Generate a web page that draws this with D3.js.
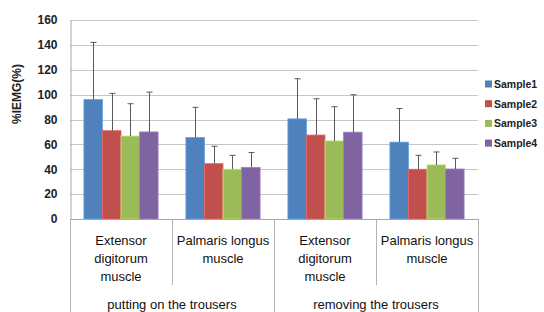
<!DOCTYPE html>
<html>
<head>
<meta charset="utf-8">
<script src="https://cdn.jsdelivr.net/npm/d3@7"></script>
<style>
  body { margin: 0; background: #fff; }
  text { font-family: "Liberation Sans", Arial, sans-serif; }
</style>
</head>
<body>
<svg id="chart" width="544" height="312"></svg>
<script>
// data
var muscles = ["Extensor digitorum muscle", "Palmaris longus muscle", "Extensor digitorum muscle", "Palmaris longus muscle"];
var muscleLines = [["Extensor", "digitorum", "muscle"], ["Palmaris longus", "muscle"], ["Extensor", "digitorum", "muscle"], ["Palmaris longus", "muscle"]];
var actions = ["putting on the trousers", "removing the trousers"];
var series = ["Sample1", "Sample2", "Sample3", "Sample4"];
var colors = ["#4f81bd", "#c0504d", "#9bbb59", "#8064a2"];
var sample1 = [96, 65.5, 80.5, 61.8];
var sample2 = [71, 44.5, 67.5, 40];
var sample3 = [66.7, 40, 62.8, 43.5];
var sample4 = [70, 41.5, 69.8, 40.2];
var err1 = [46, 24.3, 32.3, 27];
var err2 = [30, 14, 29.2, 11.2];
var err3 = [26, 11.2, 27.5, 10.4];
var err4 = [32, 12, 30.1, 8.6];
var yTicks = [0, 20, 40, 60, 80, 100, 120, 140, 160];

var values = [sample1, sample2, sample3, sample4];
var errors = [err1, err2, err3, err4];

var svg = d3.select("#chart");
var plotLeft = 70, plotRight = 478, plotTop = 20, plotBottom = 219;

var x = d3.scaleBand().domain(d3.range(muscles.length)).range([plotLeft, plotRight]).paddingInner(0).paddingOuter(0);
var xs = d3.scaleBand().domain(series).range([0, x.bandwidth()]).paddingInner(0).paddingOuter(0.75);
var y = d3.scaleLinear().domain([0, 160]).range([plotBottom, plotTop]);

// gridlines
svg.append("g").selectAll("line").data(yTicks.slice(1)).enter().append("line")
  .attr("x1", plotLeft).attr("x2", plotRight)
  .attr("y1", function(d) { return Math.round(y(d)) + 0.5; })
  .attr("y2", function(d) { return Math.round(y(d)) + 0.5; })
  .attr("stroke", "#c6c6c6").attr("stroke-width", 1);

// y axis (no outward ticks)
var yAxis = svg.append("g").attr("transform", "translate(" + (plotLeft + 0.5) + ",0)")
  .call(d3.axisLeft(y).tickValues(yTicks).tickSize(0).tickPadding(13));
yAxis.select(".domain").attr("stroke", "#a6a6a6");
yAxis.selectAll(".tick text").attr("font-size", 12).attr("font-weight", "bold").attr("fill", "#222")
  .attr("font-family", "'Liberation Sans', Arial, sans-serif");

svg.append("text")
  .attr("transform", "translate(21,94) rotate(-90)")
  .attr("text-anchor", "middle").attr("font-size", 12).attr("font-weight", "bold").attr("fill", "#222")
  .text("%IEMG(%)");

// bars
var groups = svg.append("g").selectAll("g").data(muscles).enter().append("g")
  .attr("transform", function(d, i) { return "translate(" + x(i) + ",0)"; });

groups.each(function(m, i) {
  var g = d3.select(this);
  series.forEach(function(s, k) {
    var v = values[k][i], e = errors[k][i];
    var bx = xs(s);
    g.append("rect")
      .attr("x", bx).attr("y", y(v))
      .attr("width", xs.bandwidth()).attr("height", y(0) - y(v))
      .attr("fill", colors[k])
      .attr("stroke", d3.color(colors[k]).brighter(0.6)).attr("stroke-width", 0.8);
    var cx = Math.round(bx + xs.bandwidth() / 2) + 0.5;
    g.append("line").attr("x1", cx).attr("x2", cx).attr("y1", y(v)).attr("y2", y(v + e))
      .attr("stroke", "#595959").attr("stroke-width", 1);
    g.append("line").attr("x1", cx - 3).attr("x2", cx + 3).attr("y1", y(v + e)).attr("y2", y(v + e))
      .attr("stroke", "#595959").attr("stroke-width", 1);
  });
});

// x axis line and category dividers
svg.append("line").attr("x1", plotLeft).attr("x2", plotRight).attr("y1", plotBottom + 0.5).attr("y2", plotBottom + 0.5)
  .attr("stroke", "#a6a6a6");
d3.range(muscles.length + 1).forEach(function(i) {
  var xx = Math.round(i < muscles.length ? x(i) : plotRight) + 0.5;
  var outer = (i % 2 === 0);
  svg.append("line").attr("x1", xx).attr("x2", xx).attr("y1", plotBottom).attr("y2", outer ? 312 : 285)
    .attr("stroke", "#b3b3b3");
});

// muscle labels
groups.each(function(m, i) {
  var t = d3.select(this).append("text").attr("text-anchor", "middle")
    .attr("font-size", 13).attr("fill", "#111")
    .attr("font-family", "'Open Sans', sans-serif");
  muscleLines[i].forEach(function(line, j) {
    t.append("tspan").attr("x", x.bandwidth() / 2).attr("y", 245 + j * 18).text(line);
  });
});

// action labels
actions.forEach(function(a, j) {
  svg.append("text").attr("x", x(j * 2) + x.bandwidth()).attr("y", 309)
    .attr("text-anchor", "middle").attr("font-size", 13).attr("fill", "#111")
    .attr("font-family", "'Open Sans', sans-serif")
    .text(a);
});

// legend
var legend = svg.append("g").selectAll("g").data(series).enter().append("g")
  .attr("transform", function(d, i) { return "translate(485," + (84 + i * 19.7) + ")"; });
legend.append("rect").attr("x", 0).attr("y", -3.5).attr("width", 7).attr("height", 7)
  .attr("fill", function(d, i) { return colors[i]; });
legend.append("text").attr("x", 9).attr("y", 4).attr("font-size", 10.5).attr("font-weight", "bold")
  .attr("font-family", "Lato, sans-serif")
  .attr("fill", "#222").text(function(d) { return d; });
</script>
</body>
</html>
